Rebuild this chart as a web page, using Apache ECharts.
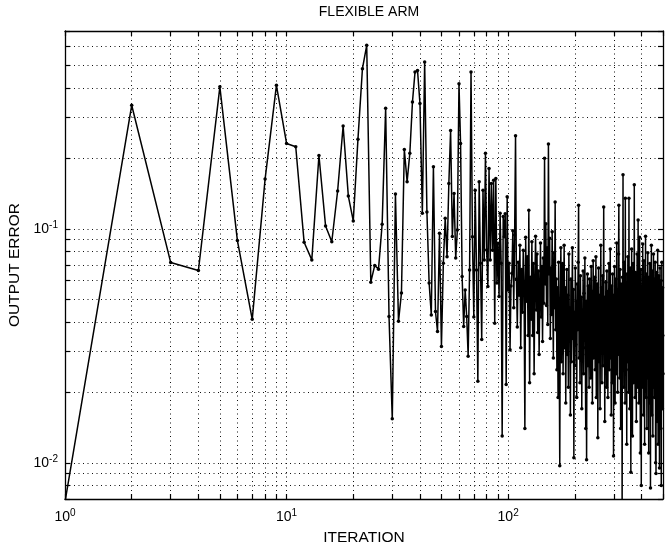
<!DOCTYPE html>
<html><head><meta charset="utf-8">
<script src="https://cdn.jsdelivr.net/npm/echarts@6/dist/echarts.min.js"></script>
<style>html,body{margin:0;padding:0;background:#fff}#c{width:668px;height:547px}</style>
</head><body><div id="c"></div>
<script>
const titleText = 'FLEXIBLE ARM';
const xName = 'ITERATION';
const yName = 'OUTPUT ERROR';
const xMin = 1, xMax = 500;
const yMin = 0.007, yMax = 0.7;
const xTickValues = [1,2,3,4,5,6,7,8,9,10,20,30,40,50,60,70,80,90,100,200,300,400,500];
const yTickValues = [0.007,0.008,0.009,0.01,0.02,0.03,0.04,0.05,0.06,0.07,0.08,0.09,0.1,0.2,0.3,0.4,0.5,0.6,0.7];
const xLabelValues = [1,10,100];
const yLabelValues = [0.01,0.1];

// output error per iteration, iterations 1..105
const errEarly = [
  0.0068,0.337,0.0717,0.0663,0.404,0.089,0.041,0.163,0.41,0.2315,
  0.224,0.0876,0.0736,0.2057,0.1028,0.088,0.145,0.275,0.138,0.108,
  0.2415,0.483,0.608,0.0591,0.0697,0.0672,0.1045,0.327,0.0422,0.0154,
  0.1407,0.0402,0.0531,0.218,0.159,0.21,0.348,0.468,0.475,0.343,
  0.1164,0.516,0.118,0.0586,0.0428,0.184,0.0443,0.0364,0.0957,0.0314,
  0.0713,0.111,0.076,0.156,0.263,0.0926,0.1415,0.0749,0.0988,0.417,
  0.2316,0.0625,0.0382,0.0548,0.0422,0.0285,0.0667,0.468,0.0925,0.042,
  0.146,0.0667,0.0223,0.159,0.0713,0.0336,0.146,0.0736,0.21,0.0812,
  0.0567,0.181,0.0736,0.156,0.081,0.161,0.0395,0.164,0.0586,0.0868,
  0.0513,0.1164,0.0713,0.013,0.1127,0.0925,0.116,0.0216,0.137,0.0548,
  0.0713,0.0304,0.057,0.0646,0.098
];
// iterations 106..175
const errMid = [
  0.046,0.094,0.25,0.061,0.038,0.072,0.052,0.085,0.031,0.067,
  0.044,0.081,0.058,0.014,0.092,0.049,0.076,0.035,0.12,0.022,
  0.062,0.041,0.088,0.035,0.071,0.024,0.059,0.093,0.045,0.078,
  0.036,0.066,0.029,0.054,0.087,0.042,0.069,0.033,0.075,0.048,
  0.2,0.058,0.105,0.047,0.083,0.039,0.23,0.064,0.091,0.034,
  0.068,0.043,0.097,0.052,0.028,0.079,0.046,0.13,0.037,0.061,
  0.025,0.056,0.019,0.072,0.031,0.0097,0.048,0.083,0.027,0.062
];
// iterations 176..500
const errLate = [
  0.071,0.024,0.048,0.085,0.031,0.056,0.018,0.043,0.067,0.029,
  0.052,0.021,0.078,0.035,0.046,0.016,0.061,0.027,0.039,0.083,
  0.034,0.055,0.0105,0.044,0.026,0.068,0.032,0.049,0.019,0.058,
  0.037,0.072,0.126,0.028,0.047,0.022,0.063,0.036,0.051,0.017,
  0.045,0.029,0.066,0.024,0.053,0.038,0.075,0.031,0.014,0.049,
  0.0103,0.042,0.064,0.026,0.057,0.033,0.021,0.061,0.039,0.048,
  0.023,0.069,0.035,0.054,0.018,0.044,0.073,0.028,0.05,0.032,
  0.062,0.025,0.041,0.076,0.019,0.047,0.036,0.058,0.0128,0.043,
  0.068,0.027,0.052,0.034,0.017,0.045,0.085,0.031,0.056,0.022,
  0.039,0.063,0.026,0.048,0.124,0.033,0.051,0.015,0.044,0.029,
  0.059,0.037,0.021,0.066,0.032,0.047,0.019,0.054,0.038,0.071,
  0.025,0.049,0.034,0.082,0.028,0.043,0.016,0.057,0.036,0.022,
  0.064,0.03,0.046,0.0107,0.052,0.027,0.069,0.035,0.018,0.048,
  0.031,0.061,0.024,0.087,0.04,0.055,0.02,0.044,0.033,0.078,
  0.126,0.029,0.05,0.023,0.067,0.036,0.014,0.058,0.041,0.026,
  0.045,0.006,0.062,0.032,0.17,0.038,0.053,0.021,0.072,0.03,
  0.049,0.018,0.135,0.034,0.058,0.025,0.042,0.012,0.064,0.037,
  0.027,0.076,0.031,0.051,0.02,0.135,0.039,0.056,0.017,0.046,
  0.068,0.029,0.0091,0.053,0.035,0.082,0.024,0.047,0.013,0.06,
  0.033,0.071,0.022,0.045,0.038,0.154,0.027,0.058,0.019,0.041,
  0.065,0.03,0.052,0.015,0.043,0.026,0.078,0.034,0.05,0.021,
  0.109,0.036,0.062,0.018,0.047,0.028,0.092,0.032,0.055,0.011,
  0.044,0.024,0.067,0.008,0.039,0.057,0.021,0.048,0.03,0.086,
  0.026,0.053,0.016,0.041,0.073,0.028,0.046,0.012,0.06,0.034,
  0.022,0.093,0.031,0.049,0.019,0.064,0.037,0.014,0.055,0.027,
  0.042,0.079,0.023,0.051,0.033,0.011,0.062,0.036,0.045,0.018,
  0.071,0.029,0.047,0.0078,0.038,0.058,0.024,0.085,0.032,0.016,
  0.05,0.027,0.066,0.039,0.013,0.054,0.03,0.078,0.021,0.044,
  0.035,0.061,0.019,0.048,0.026,0.072,0.031,0.01,0.057,0.009,
  0.042,0.023,0.065,0.034,0.015,0.052,0.028,0.081,0.037,0.012,
  0.046,0.025,0.063,0.018,0.039,0.055,0.0095,0.043,0.029,0.068,
  0.022,0.05,0.033,0.014,0.06,0.008,0.041,0.026,0.072,0.03,
  0.048,0.017,0.056,0.035,0.024
];
const errors = errEarly.concat(errMid, errLate);
const seriesData = errors.map((v, i) => [i + 1, v]);

const FONT = 'Liberation Sans, Arial, Helvetica, sans-serif';
const supFmt = v => '{b|10}{s|' + Math.round(Math.log10(v)) + '}';
const rich = {
  b: {fontSize: 14, fontFamily: FONT, color: '#000'},
  s: {fontSize: 10, fontFamily: FONT, color: '#000', padding: [0, 0, 8, 0]}
};
const dotted = {show: true, lineStyle: {color: '#111', width: 1, type: [1, 3.5]}};
const lineStyleAxis = {show: true, onZero: false, lineStyle: {color: '#000', width: 1.3}};

function xAx(pos, main) {
  return {
    type: 'log', logBase: 10, min: xMin, max: xMax, position: pos,
    axisLine: lineStyleAxis,
    axisTick: {show: true, inside: true, length: 5, customValues: xTickValues, lineStyle: {color: '#000', width: 1.2}},
    axisLabel: main ? {show: true, customValues: xLabelValues, formatter: supFmt, rich: rich, margin: 9} : {show: false},
    splitLine: main ? dotted : {show: false},
    minorTick: {show: false}, minorSplitLine: {show: false},
    name: main ? xName : '', nameLocation: 'middle', nameGap: 31,
    nameTextStyle: {fontSize: 15.5, fontFamily: FONT, color: '#000'}
  };
}
function yAx(pos, main) {
  return {
    type: 'log', logBase: 10, min: yMin, max: yMax, position: pos,
    axisLine: lineStyleAxis,
    axisTick: {show: true, inside: true, length: 5, customValues: yTickValues, lineStyle: {color: '#000', width: 1.2}},
    axisLabel: main ? {show: true, customValues: yLabelValues, formatter: supFmt, rich: rich, margin: 7} : {show: false},
    splitLine: main ? dotted : {show: false},
    minorTick: {show: false}, minorSplitLine: {show: false},
    name: main ? yName : '', nameLocation: 'middle', nameGap: 42, nameRotate: 90,
    nameTextStyle: {fontSize: 15.5, fontFamily: FONT, color: '#000'}
  };
}

const chart = echarts.init(document.getElementById('c'), null, {renderer: 'canvas'});
chart.setOption({
  animation: false,
  backgroundColor: '#fff',
  title: {text: titleText, left: 364, textAlign: 'center', top: 0,
    textStyle: {fontSize: 14, fontWeight: 'normal', fontFamily: FONT, color: '#000'}},
  grid: {left: 65, right: 5, top: 31, bottom: 48, containLabel: false, outerBoundsMode: 'none'},
  xAxis: [xAx('bottom', true), xAx('top', false)],
  yAxis: [yAx('left', true), yAx('right', false)],
  series: [{
    type: 'line', data: seriesData, xAxisIndex: 0, yAxisIndex: 0,
    symbol: 'circle', symbolSize: 3.5, showSymbol: true, showAllSymbol: true,
    itemStyle: {color: '#000'}, lineStyle: {color: '#000', width: 1.5},
    clip: true, silent: true
  }]
});
</script></body></html>
